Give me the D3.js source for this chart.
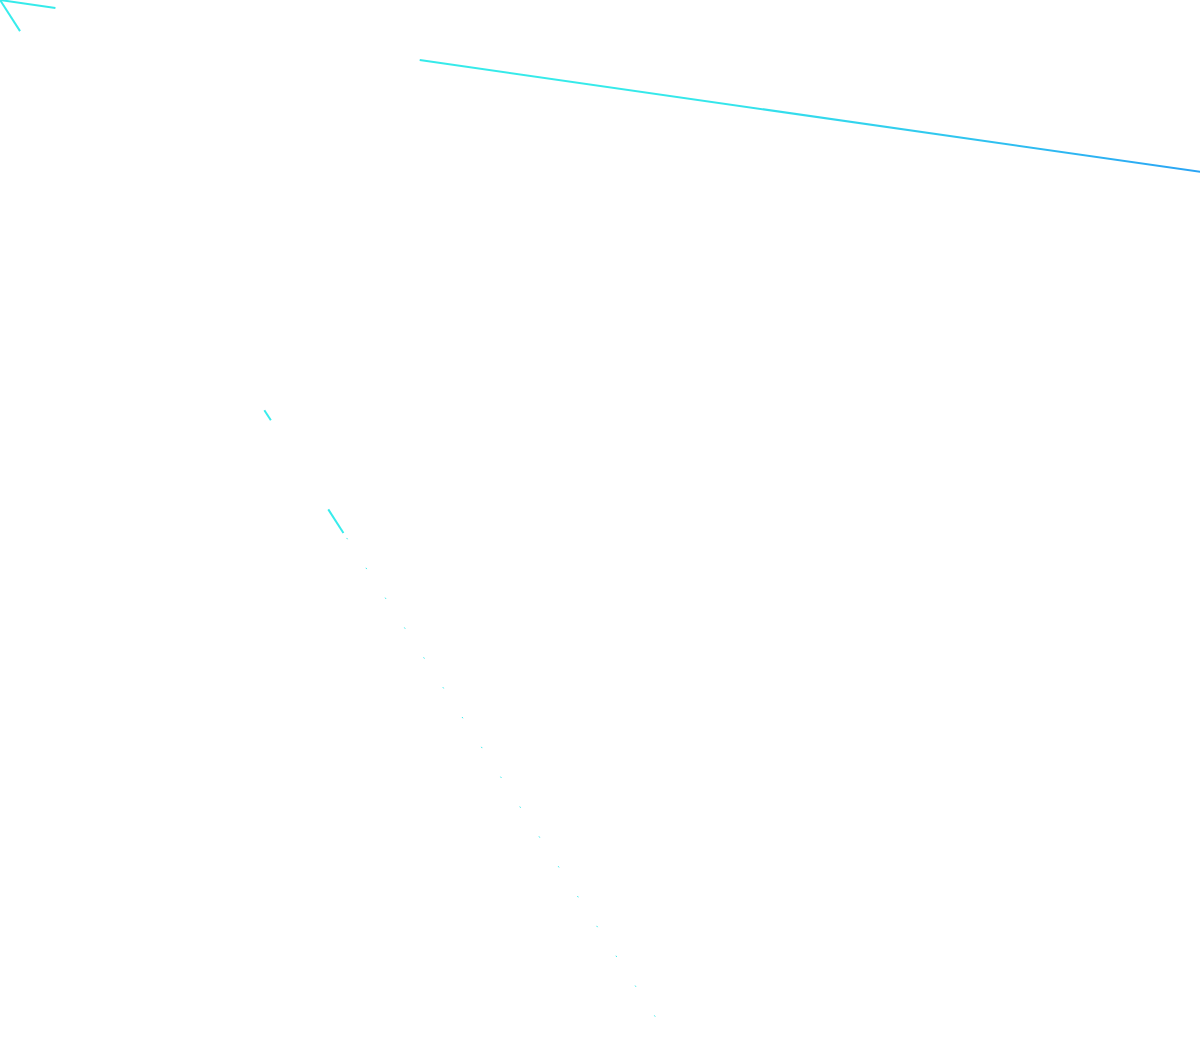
<!DOCTYPE html>
<html>
<head>
<meta charset="utf-8">
<script src="https://cdn.jsdelivr.net/npm/d3@7"></script>
<style>
  body { margin: 0; background: #ffffff; }
</style>
</head>
<body>
<script>

// two rays coming out of the top left corner (the chart centre sits at 0,0)
const rayNames = ["upper", "lower"];
// angle of each ray, degrees, clockwise from the x axis
const rayAngles = [8.15, 57.2];
// radius ranges where each ray shows up
const upperSegments = [[0, 56], [424, 1230]];
const lowerSegments = [[0, 37], [488, 500], [606, 634], [640, 1240]];
// the pieces of the lower ray that are only dots
const dottedSegments = [false, false, false, true];

const w = 1200;
const h = 1058;

const svg = d3.select("body")
  .append("svg")
  .attr("width", w)
  .attr("height", h);

const r = d3.scaleLinear().domain([0, 1240]).range([0, 1240]);
const angle = d3.scaleLinear().domain([0, 360]).range([0, 2 * Math.PI]);

// colour runs from cyan to blue along the upper ray
const colour = d3.scaleLinear()
  .domain([0, 700, 1210])
  .range(["#36eaea", "#36eaea", "#2aa4f4"]);

function point(rad, deg) {
  return [r(rad) * Math.cos(angle(deg)), r(rad) * Math.sin(angle(deg))];
}

const defs = svg.append("defs");
const grad = defs.append("linearGradient")
  .attr("id", "upperGrad")
  .attr("gradientUnits", "userSpaceOnUse")
  .attr("x1", 0).attr("y1", 0)
  .attr("x2", point(1210, rayAngles[0])[0])
  .attr("y2", point(1210, rayAngles[0])[1]);

d3.range(0, 1211, 121).forEach(function(v) {
  grad.append("stop")
    .attr("offset", v / 1210)
    .attr("stop-color", colour(v));
});

const line = d3.line();

// upper ray
svg.append("g")
  .attr("class", rayNames[0])
  .selectAll("path")
  .data(upperSegments)
  .enter()
  .append("path")
  .attr("d", function(d) {
    return line([point(d[0], rayAngles[0]), point(d[1], rayAngles[0])]);
  })
  .attr("stroke", "url(#upperGrad)")
  .attr("stroke-width", 2)
  .attr("fill", "none");

// lower ray
svg.append("g")
  .attr("class", rayNames[1])
  .selectAll("path")
  .data(lowerSegments)
  .enter()
  .append("path")
  .attr("d", function(d) {
    return line([point(d[0], rayAngles[1]), point(d[1], rayAngles[1])]);
  })
  .attr("stroke", "#38ecec")
  .attr("stroke-width", function(d, i) { return dottedSegments[i] ? 1 : 2; })
  .attr("stroke-dasharray", function(d, i) { return dottedSegments[i] ? "1.5 34" : null; })
  .attr("fill", "none");

</script>
</body>
</html>
